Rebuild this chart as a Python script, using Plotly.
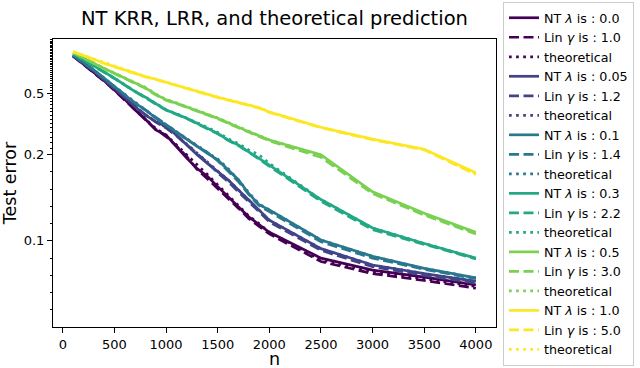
import numpy as np
import plotly.graph_objects as go

# sample sizes
n_vals = [100, 200, 300, 400, 500, 600, 700, 800, 900, 1000,
          1100, 1200, 1300, 1400, 1500, 1600, 1700, 1800, 1900, 2000,
          2500, 3000, 3500, 4000]

# lambda = 0.0 / gamma = 1.0
nt_00 = [0.867, 0.770, 0.681, 0.600, 0.524, 0.455, 0.389, 0.339, 0.289, 0.268,
         0.226, 0.196, 0.184, 0.175, 0.163, 0.151, 0.140, 0.128, 0.119, 0.110,
         0.080, 0.066, 0.058, 0.049]
lin_00 = [0.865, 0.768, 0.678, 0.597, 0.520, 0.452, 0.390, 0.336, 0.292, 0.262,
          0.228, 0.198, 0.183, 0.172, 0.161, 0.149, 0.138, 0.126, 0.117, 0.108,
          0.076, 0.062, 0.054, 0.045]
theo_00 = [0.866, 0.772, 0.683, 0.603, 0.528, 0.460, 0.394, 0.343, 0.295, 0.268,
           0.232, 0.201, 0.188, 0.177, 0.165, 0.153, 0.141, 0.129, 0.120, 0.110,
           0.078, 0.064, 0.056, 0.047]

# lambda = 0.05 / gamma = 1.2
nt_005 = [0.871, 0.780, 0.695, 0.610, 0.537, 0.470, 0.408, 0.360, 0.327, 0.304,
          0.268, 0.231, 0.200, 0.190, 0.180, 0.171, 0.159, 0.148, 0.136, 0.124,
          0.091, 0.072, 0.062, 0.053]
lin_005 = [0.870, 0.778, 0.692, 0.607, 0.534, 0.468, 0.410, 0.362, 0.325, 0.298,
           0.265, 0.233, 0.205, 0.191, 0.179, 0.169, 0.157, 0.146, 0.134, 0.122,
           0.089, 0.070, 0.060, 0.051]
theo_005 = [0.870, 0.779, 0.694, 0.611, 0.538, 0.472, 0.411, 0.363, 0.328, 0.300,
            0.268, 0.234, 0.205, 0.192, 0.181, 0.171, 0.159, 0.148, 0.136, 0.124,
            0.091, 0.072, 0.062, 0.053]

# lambda = 0.1 / gamma = 1.4
nt_01 = [0.881, 0.790, 0.705, 0.625, 0.550, 0.490, 0.430, 0.390, 0.345, 0.311,
         0.280, 0.249, 0.225, 0.204, 0.194, 0.183, 0.171, 0.155, 0.142, 0.136,
         0.101, 0.082, 0.068, 0.057]
lin_01 = [0.880, 0.788, 0.702, 0.622, 0.548, 0.488, 0.432, 0.388, 0.347, 0.310,
          0.278, 0.250, 0.227, 0.207, 0.193, 0.181, 0.169, 0.154, 0.141, 0.134,
          0.099, 0.080, 0.067, 0.056]
theo_01 = [0.880, 0.789, 0.705, 0.626, 0.551, 0.491, 0.433, 0.391, 0.347, 0.313,
           0.282, 0.252, 0.228, 0.207, 0.195, 0.184, 0.171, 0.156, 0.143, 0.136,
           0.101, 0.082, 0.068, 0.057]

# lambda = 0.3 / gamma = 2.2
nt_03 = [0.894, 0.820, 0.748, 0.685, 0.623, 0.565, 0.511, 0.470, 0.425, 0.389,
         0.366, 0.344, 0.319, 0.297, 0.275, 0.249, 0.231, 0.209, 0.196, 0.188,
         0.148, 0.115, 0.097, 0.080]
lin_03 = [0.893, 0.818, 0.746, 0.683, 0.621, 0.563, 0.510, 0.468, 0.424, 0.388,
          0.364, 0.342, 0.317, 0.295, 0.273, 0.248, 0.229, 0.208, 0.195, 0.186,
          0.146, 0.113, 0.096, 0.079]
theo_03 = [0.893, 0.820, 0.749, 0.686, 0.624, 0.566, 0.512, 0.471, 0.427, 0.391,
           0.368, 0.346, 0.322, 0.300, 0.279, 0.254, 0.236, 0.215, 0.200, 0.190,
           0.148, 0.115, 0.097, 0.080]

# lambda = 0.5 / gamma = 3.0
nt_05 = [0.912, 0.840, 0.778, 0.720, 0.671, 0.625, 0.584, 0.540, 0.490, 0.452,
         0.430, 0.408, 0.385, 0.363, 0.344, 0.322, 0.300, 0.282, 0.265, 0.249,
         0.200, 0.157, 0.132, 0.110]
lin_05 = [0.911, 0.838, 0.776, 0.718, 0.668, 0.622, 0.580, 0.536, 0.487, 0.449,
          0.428, 0.405, 0.382, 0.360, 0.341, 0.319, 0.298, 0.279, 0.262, 0.246,
          0.197, 0.155, 0.130, 0.108]
theo_05 = [0.911, 0.841, 0.780, 0.723, 0.674, 0.628, 0.587, 0.544, 0.494, 0.456,
           0.433, 0.410, 0.387, 0.365, 0.346, 0.324, 0.302, 0.284, 0.266, 0.250,
           0.199, 0.156, 0.131, 0.109]

# lambda = 1.0 / gamma = 5.0
nt_10 = [0.924, 0.877, 0.826, 0.778, 0.740, 0.705, 0.671, 0.638, 0.614, 0.587,
         0.556, 0.534, 0.511, 0.491, 0.470, 0.452, 0.436, 0.419, 0.402, 0.377,
         0.301, 0.252, 0.217, 0.179]
lin_10 = [0.923, 0.875, 0.824, 0.776, 0.738, 0.703, 0.669, 0.636, 0.612, 0.585,
          0.554, 0.532, 0.509, 0.489, 0.468, 0.450, 0.434, 0.417, 0.400, 0.375,
          0.299, 0.250, 0.215, 0.177]
theo_10 = [0.923, 0.876, 0.827, 0.780, 0.742, 0.707, 0.673, 0.640, 0.616, 0.589,
           0.558, 0.536, 0.513, 0.493, 0.472, 0.454, 0.438, 0.421, 0.404, 0.378,
           0.300, 0.251, 0.216, 0.178]

lambdas = ['0.0', '0.05', '0.1', '0.3', '0.5', '1.0']
gammas = ['1.0', '1.2', '1.4', '2.2', '3.0', '5.0']
colors = ['#440154', '#414487', '#2a788e', '#22a884', '#7ad151', '#fde725']

groups = [(nt_00, lin_00, theo_00), (nt_005, lin_005, theo_005),
          (nt_01, lin_01, theo_01), (nt_03, lin_03, theo_03),
          (nt_05, lin_05, theo_05), (nt_10, lin_10, theo_10)]

#symlog y scale (linthresh 0.2, base 10), like matplotlib
LINTHRESH = 0.2
LINSCALE_ADJ = 1.0 / (1.0 - 1.0 / 10.0)


def symlog(v):
    v = np.asarray(v, dtype=float)
    lin = v * LINSCALE_ADJ
    lg = LINTHRESH * (LINSCALE_ADJ + np.log10(np.maximum(v, 1e-12) / LINTHRESH))
    return np.where(v <= LINTHRESH, lin, lg)


fig = go.Figure()
FONT = 'DejaVu Sans'

for i, (nt, lin, theo) in enumerate(groups):
    c = colors[i]
    fig.add_trace(go.Scatter(x=n_vals, y=symlog(nt), mode='lines',
                             name='NT <i>λ</i> is : {}'.format(lambdas[i]),
                             customdata=nt, hovertemplate='%{x}, %{customdata}',
                             line=dict(color=c, width=2.7)))
    fig.add_trace(go.Scatter(x=n_vals, y=symlog(lin), mode='lines',
                             name='Lin <i>γ</i> is : {}'.format(gammas[i]),
                             customdata=lin, hovertemplate='%{x}, %{customdata}',
                             line=dict(color=c, width=2.7, dash='10px,4.5px')))
    fig.add_trace(go.Scatter(x=n_vals, y=symlog(theo), mode='lines',
                             name='theoretical',
                             customdata=theo, hovertemplate='%{x}, %{customdata}',
                             line=dict(color=c, width=2.7, dash='2.7px,4.4px')))

major_y = [0.1, 0.2, 0.5]
minor_y = [v for v in np.round(np.arange(0.02, 1.12, 0.02), 2) if v not in major_y]

fig.update_layout(
    width=640, height=368,
    margin=dict(l=53, r=144, t=39, b=41, autoexpand=False),
    plot_bgcolor='white', paper_bgcolor='white',
    font=dict(family=FONT, size=13, color='black'),
    title=dict(text='NT KRR, LRR, and theoretical prediction',
               x=(53 + 496) / 2 / 640, xanchor='center',
               y=1 - 18 / 368, yanchor='middle', yref='container',
               font=dict(size=19.5)),
    legend=dict(xref='container', yref='container',
                x=503 / 640, y=1 - 2 / 368, xanchor='left', yanchor='top',
                bgcolor='white', bordercolor='#cccccc', borderwidth=1,
                font=dict(size=12.7), tracegroupgap=0, maxheight=1.0),
    showlegend=True,
)
#x label placed as an annotation so it can sit lower than the axis title allows
fig.add_annotation(text='n', xref='paper', yref='paper', x=0.5, y=-(359 - 327) / 288,
                   xanchor='center', yanchor='middle', showarrow=False,
                   font=dict(size=17.5))
fig.update_xaxes(range=[-95, 4195], tickvals=list(range(0, 4001, 500)),
                 automargin=False,
                 showline=True, mirror=True, linecolor='black', linewidth=1,
                 ticks='outside', ticklen=5, tickcolor='black', showgrid=False,
                 zeroline=False)
fig.update_yaxes(range=list(symlog([0.0, 1.116])),
                 automargin=False,
                 tickmode='array', tickvals=list(symlog(major_y)),
                 ticktext=['0.1', '0.2', '0.5'],
                 minor=dict(tickmode='array', tickvals=list(symlog(minor_y)),
                            ticks='outside', ticklen=2.5, tickcolor='black'),
                 showline=True, mirror=True, linecolor='black', linewidth=1,
                 ticks='outside', ticklen=5, tickcolor='black', showgrid=False,
                 zeroline=False, title=dict(text='Test error', font=dict(size=17.5), standoff=6))

#remove the default page margin so the figure sits at the window corner
fig.write_html('out.html', config={'displayModeBar': False},
               post_script="document.body.style.margin='0';")
